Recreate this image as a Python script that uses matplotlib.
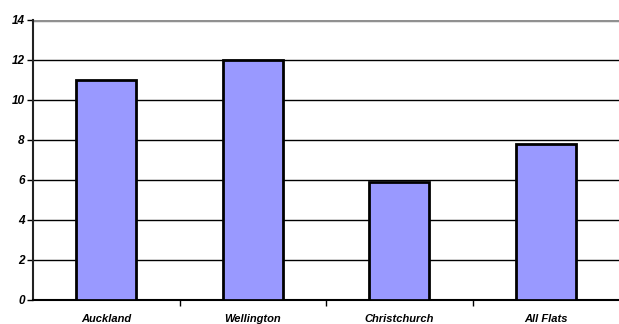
import numpy as np
import matplotlib.pyplot as plt

plt.rcParams["font.family"] = ["Liberation Sans", "DejaVu Sans"]

cities = ["Auckland", "Wellington", "Christchurch", "All Flats"]
values = [11.0, 12.0, 5.9, 7.8]
yticks = [0, 2, 4, 6, 8, 10, 12, 14]

fig = plt.figure(figsize=(6.19, 3.24), dpi=100)
ax = fig.add_axes([33 / 619, 24 / 324, 586 / 619, 280 / 324])

x = np.arange(len(cities))
ax.bar(x, values, width=0.41, color="#9999ff", edgecolor="black",
       linewidth=2, zorder=3)

ax.set_xlim(-0.5, len(cities) - 0.5)
ax.set_ylim(0, 14)

for y in yticks[1:-1]:
    ax.axhline(y, color="black", linewidth=1, zorder=1)
ax.axhline(14, color="#909090", linewidth=2.5, zorder=1)

ax.set_yticks(yticks)
ax.set_yticklabels([str(v) for v in yticks], fontsize=8.5, fontweight="bold",
                   fontstyle="italic")
ax.tick_params(axis="y", length=4, width=1, pad=2)

ax.set_xticks(x[:-1] + 0.5)
ax.set_xticklabels([])
ax.tick_params(axis="x", length=4, width=1)
ax.set_xticks(x, minor=True)
ax.set_xticklabels(cities, minor=True, fontsize=8, fontweight="bold",
                   fontstyle="italic")
ax.tick_params(axis="x", which="minor", length=0, pad=10)

for side in ["top", "right"]:
    ax.spines[side].set_visible(False)
ax.spines["left"].set_linewidth(1.5)
ax.spines["bottom"].set_linewidth(1.5)
ax.spines["left"].set_color("#222222")

fig.savefig("out.png", dpi=100)
